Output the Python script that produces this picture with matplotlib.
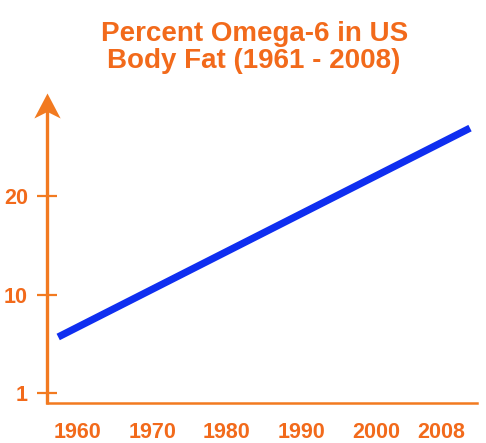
import matplotlib
matplotlib.use("Agg")
import matplotlib.pyplot as plt
from matplotlib.path import Path

# Data
years = [1957.4, 2012.6]
omega6_pct = [5.7, 26.9]
xtick_pos = [1960, 1970, 1980, 1990, 2000, 2008.8]
xtick_labels = ["1960", "1970", "1980", "1990", "2000", "2008"]
ytick_pos = [0, 10, 20]
ytick_labels = ["1", "10", "20"]
title = "Percent Omega-6 in US\nBody Fat (1961 - 2008)"

orange = "#F27A20"
text_orange = "#F26A1B"
blue = "#0F2EF0"

plt.rcParams["font.family"] = ["Liberation Sans", "DejaVu Sans"]

fig = plt.figure(figsize=(4.86, 4.43), dpi=100)
ax = fig.add_axes([0.0967, 0.0903, 0.885, 0.6997])
ax.set_xlim(1955.9, 2013.55)
ax.set_ylim(-1.0, 30.46)

ax.plot(years, omega6_pct, color=blue, lw=5.2, solid_capstyle="butt", zorder=3)

for s in ["top", "right", "left"]:
    ax.spines[s].set_visible(False)
ax.spines["bottom"].set_color(orange)
ax.spines["bottom"].set_linewidth(1.8)

# y axis line with a stealth arrow head
ax.plot([0, 0], [-0.002, 0.97], transform=ax.transAxes, color=orange, lw=2.4,
        clip_on=False, solid_capstyle="butt", zorder=4)
head = Path([(0, 0), (-0.5, -0.95), (0, -0.7), (0.5, -0.95), (0, 0)],
            [Path.MOVETO, Path.LINETO, Path.LINETO, Path.LINETO, Path.CLOSEPOLY])
ax.plot([0], [1], transform=ax.transAxes, marker=head, markersize=36,
        color=orange, markeredgewidth=0, clip_on=False, zorder=4)

ax.set_xticks(xtick_pos)
ax.set_xticklabels(xtick_labels)
ax.set_yticks(ytick_pos)
ax.set_yticklabels(ytick_labels)
ax.tick_params(axis="x", length=0, pad=14, labelsize=15.5, labelcolor=text_orange)
ax.tick_params(axis="y", direction="inout", length=14.4, width=1.6, color=orange,
               pad=6.6, labelsize=15.5, labelcolor=text_orange)
for lbl in ax.get_xticklabels() + ax.get_yticklabels():
    lbl.set_fontweight("bold")

fig.text(0.523, 0.8928, title, ha="center", va="center", fontsize=20,
         fontweight="bold", color=text_orange, linespacing=1.08)

fig.savefig("out.png", dpi=100, facecolor="white")
